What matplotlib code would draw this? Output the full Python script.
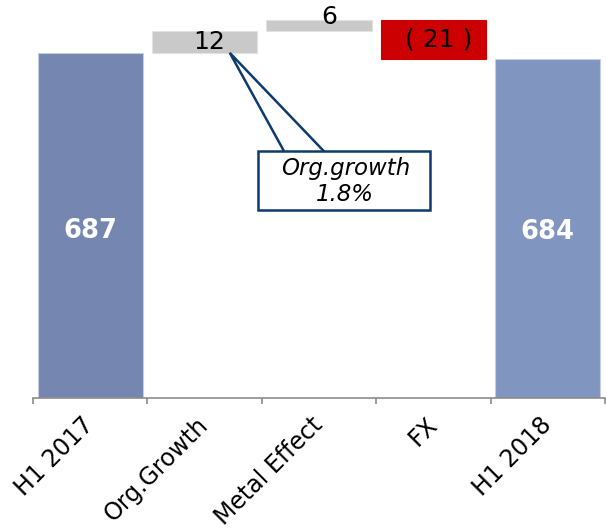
import matplotlib
matplotlib.use("Agg")
import matplotlib.pyplot as plt
from matplotlib.patches import Polygon, Rectangle

# waterfall data (EUR m)
categories = ["H1 2017", "Org.Growth", "Metal Effect", "FX", "H1 2018"]
start_value = 687
deltas = [12, 6, -21]
end_value = 684
delta_labels = ["12", "6", "( 21 )"]
callout_lines = ["Org.growth", "1.8%"]

base = 500  # value axis starts here, not at zero
blue_start = "#7587B0"
blue_end = "#8096C0"
grey = "#C9C9C9"
red = "#CC0000"
navy = "#0D3B6E"

fig = plt.figure(figsize=(6.06, 5.30), dpi=100)
ax = fig.add_axes([33 / 606, 132.3 / 530, 572 / 606, 397.7 / 530])

x = list(range(len(categories)))
w = 0.92

# totals
ax.bar(x[0], start_value - base, bottom=base, width=w, color=blue_start,
       edgecolor="#C5CDE0", linewidth=0.8, zorder=2)
ax.bar(x[-1], end_value - base, bottom=base, width=w, color=blue_end,
       edgecolor="#C5CDE0", linewidth=0.8, zorder=2)

# floating steps
level = start_value
steps = []
for i, d in enumerate(deltas):
    lo = min(level, level + d)
    col = grey if d >= 0 else red
    ec = "#E2E2E2" if d >= 0 else red
    ax.bar(x[i + 1], abs(d), bottom=lo, width=w, color=col, edgecolor=ec,
           linewidth=0.8, zorder=2)
    steps.append((lo, lo + abs(d)))
    level += d

# value labels
ax.text(x[0], (base + start_value) / 2 - 3, str(start_value), ha="center",
        va="center", color="white", fontsize=18.5, fontweight="bold")
ax.text(x[-1], (base + end_value) / 2 - 2, str(end_value), ha="center",
        va="center", color="white", fontsize=18.5, fontweight="bold")

lo, hi = steps[0]
ax.text(x[1] + 0.04, (lo + hi) / 2, delta_labels[0], ha="center", va="center",
        fontsize=18, color="black", zorder=4)
lo, hi = steps[1]
ax.text(x[2] + 0.09, hi + 1.5, delta_labels[1], ha="center", va="center",
        fontsize=18, color="black", zorder=4)
lo, hi = steps[2]
ax.text(x[3] + 0.05, (lo + hi) / 2, delta_labels[2], ha="center", va="center",
        fontsize=18, color="black", zorder=4)

# callout box with wedge pointing to the org growth bar
tip = (x[1] + 0.22, start_value + 0.3)
wedge = Polygon([(x[1] + 0.72, 631), tip, (x[1] + 1.087, 631)], closed=True,
                facecolor="white", edgecolor=navy, linewidth=1.8, zorder=5)
ax.add_patch(wedge)
box = Rectangle((x[1] + 0.467, 602), 1.503, 32, facecolor="white",
                edgecolor=navy, linewidth=1.8, zorder=6)
ax.add_patch(box)
ax.text(x[1] + 1.23, 617.5, "\n".join(callout_lines), ha="center", va="center",
        fontsize=16.5, style="italic", color="black", linespacing=1.15, zorder=7)

# axes styling
ax.set_xlim(-0.5, len(categories) - 0.5)
ax.set_ylim(base, 716)
for s in ["top", "right", "left"]:
    ax.spines[s].set_visible(False)
ax.spines["bottom"].set_color("#8C8C8C")
ax.spines["bottom"].set_linewidth(1.2)
ax.set_yticks([])
ax.set_xticks(x)
ax.set_xticklabels(categories, rotation=45, ha="right", rotation_mode="anchor",
                   fontsize=17, va="center")
ax.set_xticks([i - 0.5 for i in range(len(categories) + 1)], minor=True)
ax.tick_params(axis="x", which="major", length=0, pad=17)
ax.tick_params(axis="x", which="minor", length=4.5, width=1.2, color="#8C8C8C")

plt.savefig("out.png", dpi=100)
